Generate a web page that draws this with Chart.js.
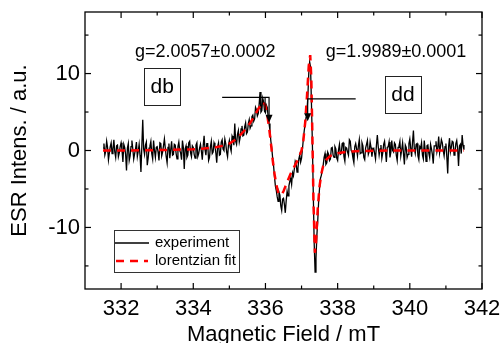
<!DOCTYPE html>
<html>
<head>
<meta charset="utf-8">
<script src="https://cdn.jsdelivr.net/npm/chart.js@4.4.1/dist/chart.umd.min.js"></script>
<style>
  html, body { margin: 0; padding: 0; background: #fff; }
</style>
</head>
<body>
<canvas id="esrChart" width="502" height="343"></canvas>
<script>
// measured spectrum, sampled every 0.025 mT from 331.5 mT
var fieldStart = 331.5;
var fieldStep = 0.025;
var expIntensity = [
  0.3, 0.9, -0.6, -0.1, 1.2, 0.4, -1.2, -0.3, 0.5, 1.0, -0.4, 0.2, 1.4, -0.2, -0.9, 0.6, 0.7, -0.8, -0.3, 0.5,
  1.0, 0.1, -1.5, 0.8, 0.4, -0.5, -2.6, 0.3, 0.9, -1.3, -0.7, 0.5, 1.3, 0.2, -1.1, -0.4, 0.2, 1.1, -0.8, -0.1,
  0.8, -0.6, -2.8, 0.6, 4.0, 0.2, -0.5, 0.7, 1.1, -1.9, -1.0, 0.3, 0.6, 1.2, -0.4, -1.1, 1.3, 0.0, -0.9, 0.4,
  0.5, -0.2, -1.3, 1.0, 0.9, -0.7, -0.2, 0.6, 1.5, 0.3, -0.8, -1.6, 0.4, 0.9, -1.0, 0.1, 1.2, -0.6, -0.5, 0.8,
  0.7, -0.4, -1.1, 0.5, 1.1, 0.0, -0.3, -1.2, 1.3, 0.4, -2.4, 0.2, 0.6, -0.9, -0.6, 1.0, 1.2, -0.3, -0.8, 0.6,
  0.4, -0.5, -1.0, 0.7, 1.0, -0.8, -0.4, 0.3, 0.8, -0.1, -1.2, 0.6, 1.9, 0.1, -0.6, 0.9, 0.9, -1.3, -0.9, 0.5,
  1.2, -0.4, -0.2, 1.0, 0.6, -0.3, -1.6, 0.5, 1.0, -0.6, -0.5, 1.1, 1.4, 0.2, 0.0, 1.5, 0.9, -0.2, -0.8, 0.7,
  1.3, 0.4, -0.1, 1.9, 1.6, 0.7, 3.5, 1.2, 0.8, 2.1, 2.6, 1.1, 1.7, 2.8, 3.2, 1.9, 2.0, 3.1, 3.6, 2.2,
  2.4, 3.5, 4.0, 2.9, 3.2, 4.4, 4.6, 3.8, 4.1, 5.6, 5.3, 4.5, 4.8, 6.0, 7.6, 5.0, 5.2, 6.8, 6.3, 5.1,
  4.9, 5.9, 5.6, 4.4, 3.5, 2.6, 1.2, 0.3, -1.0, -2.0, -3.4, -4.6, -5.2, -6.0, -6.6, -5.4, -5.8, -7.2, -7.8, -6.3,
  -6.2, -7.0, -8.1, -6.5, -5.3, -5.9, -4.6, -4.0, -3.6, -4.4, -2.9, -3.3, -2.4, -1.4, -1.7, -2.8, -2.3, -1.1, -0.6, -1.5,
  -1.0, 0.2, 1.5, 2.6, 3.4, 4.3, 5.0, 7.0, 10.0, 11.5, 10.8, 6.0, 1.0, -5.5, -12.0, -15.8, -14.0, -11.0, -9.0, -6.5,
  -4.8, -3.6, -3.2, -2.4, -1.9, -0.9, -0.4, -1.8, -1.6, -0.2, -0.5, -1.3, -1.1, 0.3, 0.4, -0.6, -0.9, 0.5, 0.2, -1.0,
  -1.3, 0.1, 0.8, -0.5, -0.4, 0.9, 1.0, -0.8, -1.4, 0.4, 0.3, -0.2, -0.6, 1.4, 1.2, 0.0, -0.2, -1.0, -1.6, 0.5,
  0.9, 0.2, -0.7, 0.6, 1.4, -0.4, -0.3, 1.0, 0.6, -0.9, -1.2, 0.3, 0.8, 1.3, -0.5, -0.1, 1.1, 0.4, -0.8, 0.2,
  0.3, -0.4, -1.1, 0.7, 2.0, 0.5, -0.6, 0.2, 0.7, -1.0, -0.3, 0.8, 1.2, -0.1, -1.5, 0.4, 0.5, 1.1, -0.9, -0.2,
  1.3, 0.0, -0.2, 1.0, 0.8, -0.6, -1.3, 0.4, 0.6, 1.2, -0.7, 0.1, 1.0, -0.4, -1.8, 0.7, 0.4, -0.9, -0.5, 0.9,
  1.5, 0.3, -0.8, 1.1, 2.6, 0.2, -0.4, 0.8, 0.9, -0.7, -1.2, 0.5, 0.3, 1.0, -0.6, -1.1, 1.3, 0.1, -1.4, 0.6,
  0.7, -0.3, -0.9, 0.8, 0.2, -0.5, -1.7, 0.6, 0.6, 1.2, -0.2, 0.4, 1.8, -0.3, 0.5, 1.4, 1.0, 0.0, -0.7, 0.5,
  0.9, -0.8, -3.0, 0.5, 1.6, -0.2, 0.4, 1.2, 1.1, -0.6, -0.3, 0.9, 1.3, 0.2, -2.0, 0.6, 0.8, -0.4, 2.0, 0.7,
  0.1
];

// lorentzian fit curve
var fitField = [
  331.5, 332, 332.5, 333, 333.5, 334, 334.3, 334.6, 334.8, 335.0,
  335.2, 335.4, 335.55, 335.7, 335.8, 335.9, 335.95, 336.0, 336.05, 336.1,
  336.15, 336.2, 336.25, 336.3, 336.35, 336.4, 336.45, 336.5, 336.55, 336.6,
  336.7, 336.8, 336.9, 337.0, 337.05, 337.1, 337.15, 337.2, 337.24, 337.27,
  337.3, 337.33, 337.37, 337.4, 337.45, 337.5, 337.55, 337.6, 337.7, 337.8,
  338.0, 338.3, 338.6, 339, 339.5, 340, 340.5, 341, 341.5
];
var fitIntensity = [
  0.0, 0.0, 0.02, 0.05, 0.1, 0.15, 0.25, 0.4, 0.6, 0.9,
  1.5, 2.5, 3.4, 4.5, 5.4, 6.1, 6.3, 5.8, 4.6, 3.0,
  1.0, -1.2, -3.0, -4.4, -5.4, -5.8, -5.7, -5.3, -4.7, -4.1,
  -3.0, -2.1, -1.2, 0.0, 1.3, 3.6, 7.0, 11.0, 12.4, 9.5,
  2.0, -6.5, -13.3, -12.0, -7.5, -4.6, -3.0, -2.0, -1.1, -0.7,
  -0.35, -0.15, -0.08, -0.04, 0, 0, 0, 0, 0
];

var xMajorTicks = [332, 334, 336, 338, 340, 342];
var xMinorTicks = [333, 335, 337, 339, 341];
var yMajorTicks = [-10, 0, 10];
var yMinorTicks = [-15, -5, 5, 15];

var seriesNames = ['experiment', 'lorentzian fit'];

// annotations (data units)
var gLabels = [
  { text: 'g=2.0057\u00b10.0002', x: 334.33, y: 12.8 },
  { text: 'g=1.9989\u00b10.0001', x: 339.62, y: 12.8 }
];
var boxLabels = [
  { text: 'db', x: 333.14, y: 8.3 },
  { text: 'dd', x: 339.81, y: 7.3 }
];
var arrows = [
  { from: 334.8, to: 336.1, level: 6.9, tip: 3.6, extra: 335.99, extraEnd: 5.0 },
  { from: 338.5, to: 337.17, level: 6.7, tip: 3.8 }
];

var FONT = 'Liberation Sans, Arial, sans-serif';

var decorations = {
  id: 'decorations',
  afterDraw: function(chart) {
    var ctx = chart.ctx;
    var a = chart.chartArea;
    var xs = chart.scales.x, ys = chart.scales.y;

    function seg(x1, y1, x2, y2) {
      ctx.beginPath();
      ctx.moveTo(x1, y1);
      ctx.lineTo(x2, y2);
      ctx.stroke();
    }

    ctx.save();
    ctx.strokeStyle = '#000';
    ctx.lineWidth = 1.3;
    ctx.strokeRect(a.left, a.top, a.right - a.left, a.bottom - a.top);

    // inward ticks on all four sides
    ctx.lineWidth = 1.2;
    xMajorTicks.concat(xMinorTicks).forEach(function(v) {
      var len = xMajorTicks.indexOf(v) >= 0 ? 6 : 3.5;
      var px = xs.getPixelForValue(v);
      seg(px, a.bottom, px, a.bottom - len);
      seg(px, a.top, px, a.top + len);
    });
    yMajorTicks.concat(yMinorTicks).forEach(function(v) {
      var len = yMajorTicks.indexOf(v) >= 0 ? 6 : 3.5;
      var py = ys.getPixelForValue(v);
      seg(a.left, py, a.left + len, py);
      seg(a.right, py, a.right - len, py);
    });

    // bracket arrows
    ctx.lineWidth = 1.2;
    arrows.forEach(function(ar) {
      var x1 = xs.getPixelForValue(ar.from), x2 = xs.getPixelForValue(ar.to);
      var yl = ys.getPixelForValue(ar.level), yt = ys.getPixelForValue(ar.tip);
      ctx.beginPath();
      ctx.moveTo(x1, yl);
      ctx.lineTo(x2, yl);
      ctx.lineTo(x2, yt - 6);
      ctx.stroke();
      ctx.beginPath();
      ctx.moveTo(x2 - 3.5, yt - 8);
      ctx.lineTo(x2 + 3.5, yt - 8);
      ctx.lineTo(x2, yt);
      ctx.closePath();
      ctx.fillStyle = '#000';
      ctx.fill();
      if (ar.extra) {
        var xe = xs.getPixelForValue(ar.extra);
        seg(xe, yl, xe, ys.getPixelForValue(ar.extraEnd));
      }
    });

    // g-value labels
    ctx.fillStyle = '#000';
    ctx.font = '18px ' + FONT;
    ctx.textAlign = 'center';
    ctx.textBaseline = 'middle';
    gLabels.forEach(function(l) {
      ctx.fillText(l.text, xs.getPixelForValue(l.x), ys.getPixelForValue(l.y));
    });

    // boxed labels
    ctx.font = '21px ' + FONT;
    ctx.lineWidth = 1;
    ctx.strokeStyle = '#222';
    boxLabels.forEach(function(l) {
      var cx = xs.getPixelForValue(l.x), cy = ys.getPixelForValue(l.y);
      ctx.strokeRect(Math.round(cx - 18) + 0.5, Math.round(cy - 18.5) + 0.5, 36, 37);
      ctx.fillText(l.text, cx, cy + 1);
    });

    // legend
    var lx = a.left + 29, ly = a.top + 218;
    ctx.strokeStyle = '#333';
    ctx.lineWidth = 1;
    ctx.strokeRect(lx + 0.5, ly + 0.5, 125, 42);
    ctx.strokeStyle = '#000';
    ctx.lineWidth = 1.3;
    seg(lx + 1, ly + 13, lx + 35, ly + 13);
    ctx.strokeStyle = '#ff0000';
    ctx.lineWidth = 2.5;
    ctx.setLineDash([8, 6]);
    seg(lx + 2, ly + 31, lx + 34, ly + 31);
    ctx.setLineDash([]);
    ctx.font = '15px ' + FONT;
    ctx.textAlign = 'left';
    ctx.fillStyle = '#000';
    ctx.fillText(seriesNames[0], lx + 41, ly + 13);
    ctx.fillText(seriesNames[1], lx + 41, ly + 31);
    ctx.restore();
  }
};

var expPoints = expIntensity.map(function(v, i) {
  return { x: +(fieldStart + i * fieldStep).toFixed(3), y: v };
});
var fitPoints = fitField.map(function(f, i) {
  return { x: f, y: fitIntensity[i] };
});

new Chart(document.getElementById('esrChart'), {
  type: 'line',
  data: {
    datasets: [{
      label: seriesNames[0],
      data: expPoints,
      borderColor: '#000',
      borderWidth: 1.3,
      pointRadius: 0,
      tension: 0,
      order: 2
    }, {
      label: seriesNames[1],
      data: fitPoints,
      borderColor: '#ff0000',
      borderWidth: 2.5,
      borderDash: [8, 6],
      pointRadius: 0,
      tension: 0,
      order: 1
    }]
  },
  options: {
    responsive: false,
    animation: false,
    layout: { padding: { top: 12, right: 20, left: 0, bottom: 0 } },
    plugins: { legend: { display: false }, tooltip: { enabled: false } },
    scales: {
      x: {
        type: 'linear',
        min: 331,
        max: 342,
        grid: { display: false, drawTicks: false },
        border: { display: false },
        afterBuildTicks: function(scale) {
          scale.ticks = xMajorTicks.map(function(v) { return { value: v }; });
        },
        afterFit: function(scale) {
          scale.height = 54;
          scale.paddingLeft = 0;
          scale.paddingRight = 0;
        },
        ticks: { color: '#000', padding: 7, maxRotation: 0, font: { family: FONT, size: 22 } },
        title: {
          display: true,
          text: 'Magnetic Field / mT',
          color: '#000',
          font: { family: FONT, size: 22, lineHeight: 0.7 },
          padding: 0
        }
      },
      y: {
        min: -18,
        max: 18,
        grid: { display: false, drawTicks: false },
        border: { display: false },
        afterBuildTicks: function(scale) {
          scale.ticks = yMajorTicks.map(function(v) { return { value: v }; });
        },
        afterFit: function(scale) {
          scale.width = 85;
          scale.paddingTop = 0;
          scale.paddingBottom = 0;
        },
        ticks: { color: '#000', padding: 5, font: { family: FONT, size: 22 } },
        title: {
          display: true,
          text: 'ESR Intens. / a.u.',
          color: '#000',
          font: { family: FONT, size: 22, lineHeight: 1.2 },
          padding: { top: 7, bottom: 0 }
        }
      }
    }
  },
  plugins: [decorations]
});
</script>
</body>
</html>
